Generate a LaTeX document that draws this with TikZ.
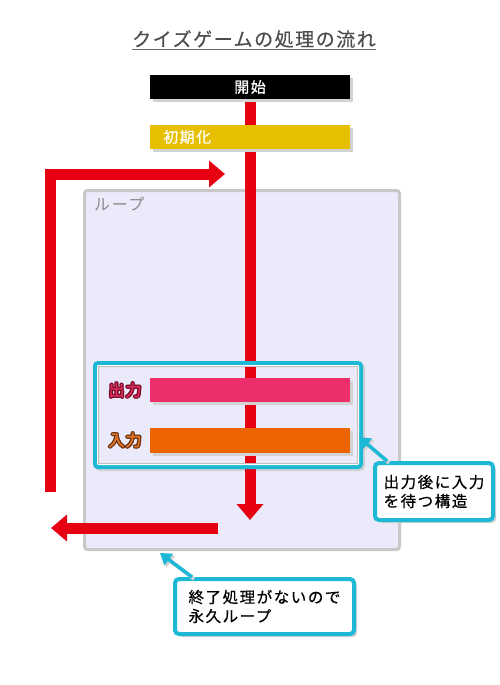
\documentclass[tikz,border=0pt]{standalone}
\usepackage{fontspec}
\newfontfamily\jp{Noto Sans CJK JP}
\newfontfamily\jpsp{Noto Sans CJK JP}[LetterSpace=10]
\newfontfamily\jptitle{Noto Sans CJK JP}[LetterSpace=8,FakeBold=0.5]
\newfontfamily\jpspm{Noto Sans CJK JP}[LetterSpace=10,FakeBold=0.6]
\newfontfamily\jpspb{Noto Sans CJK JP}[LetterSpace=6,FakeBold=1.5]
\usetikzlibrary{arrows.meta,shadows}
\definecolor{myred}{HTML}{E60012}
\definecolor{mygold}{HTML}{E5BF00}
\definecolor{mypink}{HTML}{EC2F6B}
\definecolor{myorange}{HTML}{EB6400}
\definecolor{mylav}{HTML}{EAEAFB}
\definecolor{loopgray}{HTML}{C8C8C8}
\definecolor{mycyan}{HTML}{1DB8D6}
\definecolor{titlegray}{HTML}{4D4D4D}
\definecolor{shadowgray}{HTML}{D2D2D2}
\definecolor{outred}{HTML}{7A0A28}
\definecolor{outredfill}{HTML}{D8305C}
\definecolor{inbrown}{HTML}{6E3410}
\definecolor{inbrownfill}{HTML}{E2772A}
\pgfdeclarelayer{bg}
\pgfdeclarelayer{mid}
\pgfsetlayers{bg,mid,main}
\tikzset{
  redarrow/.style={draw=myred, line width=11pt, line join=miter, -{Triangle[width=26pt,length=16pt]}},
  pointer/.style={draw=mycyan, line width=3.5pt, -{Triangle[width=14pt,length=11pt]}},
  pointershadow/.style={draw=shadowgray, line width=3.5pt, -{Triangle[width=14pt,length=11pt]}},
  boxshadow/.style={drop shadow={shadow xshift=3pt, shadow yshift=-3pt, fill=shadowgray, opacity=1}},
  flowbox/.style={rectangle, minimum width=200pt, minimum height=24pt, inner sep=0pt, boxshadow},
  callout/.style={rectangle, draw=mycyan, line width=4pt, fill=white, rounded corners=4pt, align=left, inner sep=0pt, boxshadow},
  calltext/.style={font=\jpspm\fontsize{15.5}{19}\selectfont, text=black},
  iolabel/.style={font=\jpspb\fontsize{16}{18}\selectfont, inner sep=0pt},
}
\begin{document}
\begin{tikzpicture}[x=1pt,y=-1pt]
\useasboundingbox (0,0) rectangle (500,685);
\begin{pgfonlayer}{bg}
\fill[white] (0,0) rectangle (500,685);
\end{pgfonlayer}

% title
\node[font=\jptitle\fontsize{19}{22}\selectfont, text=titlegray, inner sep=0pt] (title) at (254,39) {クイズゲームの処理の流れ};
\draw[draw=titlegray!85, line width=1.5pt] (132,49.5) -- (376,49.5);

% loop box
\begin{pgfonlayer}{bg}
\node[rectangle, draw=loopgray, fill=mylav, line width=3pt, rounded corners=3pt, minimum width=315pt, minimum height=359pt, inner sep=0pt] (loop) at (242,370) {};
\node[font=\jpsp\fontsize{16}{18}\selectfont, text=black!45, anchor=west, inner sep=0pt] (looplabel) at (94,204) {ループ};
% group shadow
\node[rectangle, draw=shadowgray, line width=4pt, rounded corners=3pt, minimum width=266pt, minimum height=104pt, inner sep=0pt] (grpshadow) at (230,417) {};
\end{pgfonlayer}

% flow boxes
\node[flowbox, fill=black, text=white, font=\jpspm\fontsize{15}{18}\selectfont] (start) at (250,87) {開始};
\node[flowbox, fill=mygold] (init) at (250,137) {};
\node[font=\jpspm\fontsize{15}{18}\selectfont, text=white, anchor=west, inner sep=0pt] (initlabel) at (163,137) {初期化};

% red connectors
\coordinate (mainend) at (250,520);
\coordinate (lb) at (50,492);
\coordinate (lt) at (50,174);
\coordinate (te) at (225,174);
\coordinate (bs) at (218,528);
\coordinate (be) at (51,528);
\begin{pgfonlayer}{mid}
\draw[redarrow] (start.south) -- (mainend);
\draw[redarrow] (lb) -- (lt) -- (te);
\draw[redarrow] (bs) -- (be);
\end{pgfonlayer}

% bars
\node[flowbox, fill=mypink] (outbar) at (250,390) {};
\node[flowbox, fill=myorange, minimum height=25pt] (inbar) at (250,440.5) {};

% outlined labels
\foreach \dx/\dy in {-1.3/0,1.3/0,0/-1.3,0/1.3,-0.9/-0.9,0.9/-0.9,-0.9/0.9,0.9/0.9}{
  \node[iolabel, text=outred] at (125+\dx,390+\dy) {出力};
  \node[iolabel, text=inbrown] at (125+\dx,440+\dy) {入力};
}
\node[iolabel, text=outredfill] (outlabel) at (125,390) {出力};
\node[iolabel, text=inbrownfill] (inlabel) at (125,440) {入力};

% group box
\node[rectangle, draw=mycyan, line width=4pt, rounded corners=3pt, minimum width=266pt, minimum height=104pt, inner sep=0pt] (grp) at (228,415) {};
\draw[white, line width=1pt, rounded corners=1pt] ([shift={(4.5,4.5)}]grp.north west) rectangle ([shift={(-4.5,-4.5)}]grp.south east);
\draw[black!25, line width=0.8pt] ([shift={(5.6,5.6)}]grp.north west) rectangle ([shift={(-5.6,-5.6)}]grp.south east);

% callouts
\node[callout, minimum width=118pt, minimum height=57pt, calltext] (c1) at (434,491.5) {出力後に入力\\を待つ構造};
\node[callout, minimum width=179pt, minimum height=55pt, calltext] (c2) at (264.5,606.5) {終了処理がないので\\永久ループ};

\coordinate (tip1) at ([xshift=-4pt,yshift=-22pt]grp.east);
\coordinate (tip2) at ([xshift=77pt,yshift=-2pt]loop.south west);
\draw[pointershadow] ([shift={(16,2)}]c1.north west) -- ([shift={(2,2)}]tip1);
\draw[pointer] ([xshift=14pt]c1.north west) -- (tip1);
\draw[pointershadow] ([shift={(21,2)}]c2.north west) -- ([shift={(2,2)}]tip2);
\draw[pointer] ([xshift=19pt]c2.north west) -- (tip2);
\end{tikzpicture}
\end{document}
